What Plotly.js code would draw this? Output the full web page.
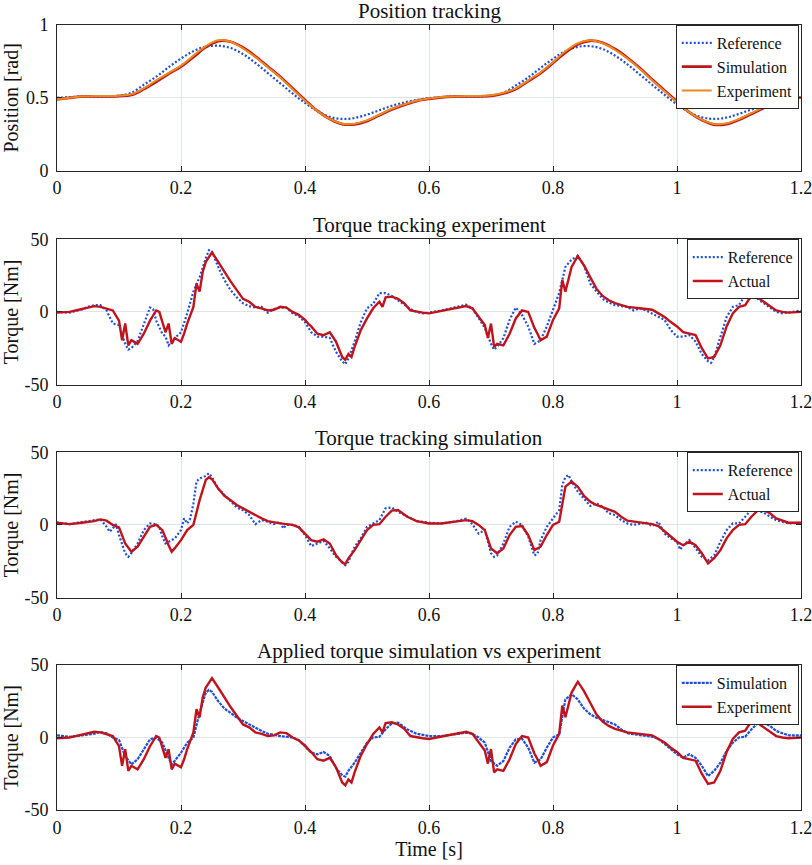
<!DOCTYPE html>
<html>
<head>
<meta charset="utf-8">
<script src="https://cdn.plot.ly/plotly-3.0.1.min.js"></script>
<style>html,body{margin:0;padding:0;background:#fff}#chart{width:812px;height:865px}</style>
</head>
<body>
<div id="chart"></div>
<script>
// ---------- Panel 1: Position tracking ----------
const posTime = [0,0.02,0.04,0.06,0.08,0.10,0.12,0.14,0.16,0.18,0.20,0.22,0.24,0.26,0.28,0.30,0.32,0.34,0.36,0.38,0.40,0.42,0.44,0.46,0.48,0.50,0.52,0.54,0.56,0.58,0.60,0.62,0.64,0.66,0.68,0.70,0.72,0.74,0.76,0.78,0.80,0.82,0.84,0.86,0.88,0.90,0.92,0.94,0.96,0.98,1.00,1.02,1.04,1.06,1.08,1.10,1.12,1.14,1.16,1.18,1.20];
const posReference = [0.50,0.505,0.51,0.51,0.51,0.515,0.535,0.59,0.645,0.71,0.77,0.82,0.852,0.858,0.842,0.80,0.74,0.67,0.60,0.53,0.465,0.41,0.37,0.355,0.362,0.385,0.415,0.445,0.468,0.485,0.498,0.505,0.51,0.51,0.51,0.515,0.535,0.585,0.64,0.705,0.768,0.82,0.85,0.855,0.835,0.79,0.73,0.66,0.59,0.52,0.455,0.40,0.367,0.355,0.365,0.39,0.42,0.448,0.47,0.488,0.505];
const posSimulation = [0.49,0.50,0.508,0.51,0.51,0.512,0.52,0.56,0.61,0.665,0.715,0.78,0.848,0.89,0.885,0.845,0.785,0.715,0.645,0.565,0.485,0.41,0.355,0.32,0.318,0.34,0.38,0.42,0.452,0.478,0.493,0.503,0.508,0.51,0.51,0.514,0.53,0.56,0.615,0.67,0.74,0.81,0.868,0.892,0.878,0.835,0.775,0.705,0.625,0.55,0.475,0.40,0.348,0.316,0.32,0.35,0.39,0.43,0.462,0.487,0.503];
const posExperiment = [0.49,0.50,0.51,0.512,0.513,0.515,0.525,0.565,0.62,0.67,0.72,0.79,0.855,0.895,0.885,0.84,0.78,0.71,0.64,0.56,0.48,0.41,0.355,0.322,0.322,0.345,0.385,0.425,0.455,0.48,0.495,0.505,0.51,0.513,0.513,0.518,0.535,0.565,0.62,0.675,0.745,0.82,0.875,0.895,0.875,0.83,0.77,0.70,0.62,0.545,0.47,0.40,0.35,0.32,0.325,0.355,0.395,0.435,0.465,0.49,0.505];

// ---------- Panel 2: Torque tracking experiment ----------
const expRefTime = [0,0.02,0.04,0.05,0.06,0.07,0.08,0.09,0.10,0.11,0.115,0.12,0.13,0.14,0.15,0.155,0.16,0.17,0.175,0.18,0.19,0.20,0.21,0.22,0.23,0.24,0.245,0.25,0.26,0.27,0.28,0.29,0.30,0.31,0.32,0.33,0.34,0.35,0.36,0.37,0.38,0.39,0.40,0.41,0.42,0.43,0.44,0.45,0.46,0.465,0.47,0.48,0.49,0.50,0.51,0.52,0.53,0.54,0.55,0.56,0.57,0.58,0.59,0.60,0.61,0.62,0.63,0.64,0.65,0.66,0.67,0.68,0.69,0.70,0.705,0.71,0.72,0.73,0.74,0.75,0.76,0.77,0.78,0.79,0.80,0.81,0.82,0.83,0.84,0.85,0.86,0.87,0.88,0.89,0.90,0.91,0.92,0.93,0.94,0.95,0.96,0.97,0.98,0.99,1.00,1.01,1.02,1.03,1.04,1.05,1.055,1.06,1.07,1.08,1.09,1.10,1.11,1.12,1.13,1.14,1.15,1.16,1.17,1.18,1.19,1.20];
const expReference = [0,-0.5,1.7,3.5,4.7,4.7,1,-8,-9,-22,-26,-25,-20,-8,3,2,-6,-15,-17,-23,-18,-14,-1,14,24,37,42.5,41.5,31,22,15,10,6,4,3,3.5,-0.5,2,3,3,-1,-3,-7,-14,-17,-17,-18,-27.5,-34,-36,-32,-20.5,-7,2.5,5.5,13,13,11,8,5,2,0,-1,-0.5,0,1,2,3,3.5,5,2.5,-4.5,-11,-22,-26,-24,-18,-5.5,3,-2,-10,-22,-19.5,-10,1,13,31,36,38.5,32,19.5,14,9,6.5,4.7,4,3.5,1,2.5,1,-1,-3,-5.5,-12.5,-17,-17,-16,-20.5,-29,-34,-35,-31,-18,-3.5,3.5,4.7,11.5,11.5,9,6,2.5,0,-1,-0.5,0,1];
const expActTime = [0,0.01,0.02,0.03,0.04,0.05,0.06,0.07,0.08,0.09,0.10,0.105,0.11,0.115,0.12,0.13,0.14,0.15,0.16,0.165,0.17,0.175,0.18,0.185,0.19,0.20,0.205,0.21,0.22,0.225,0.23,0.235,0.24,0.25,0.26,0.27,0.28,0.29,0.30,0.31,0.32,0.33,0.34,0.35,0.36,0.37,0.38,0.39,0.40,0.405,0.41,0.42,0.43,0.44,0.45,0.46,0.465,0.47,0.475,0.48,0.49,0.50,0.51,0.52,0.525,0.53,0.54,0.55,0.56,0.57,0.58,0.59,0.60,0.62,0.64,0.66,0.67,0.68,0.69,0.695,0.70,0.705,0.71,0.72,0.73,0.74,0.75,0.76,0.77,0.775,0.78,0.79,0.80,0.81,0.815,0.82,0.83,0.84,0.85,0.86,0.87,0.88,0.89,0.90,0.92,0.94,0.96,0.97,0.98,0.99,1.00,1.01,1.02,1.03,1.04,1.05,1.06,1.07,1.08,1.09,1.10,1.11,1.115,1.12,1.13,1.14,1.15,1.16,1.17,1.18,1.20];
const expActual = [-0.5,-0.5,0,1,2,3,4,3.5,2.5,1,-6,-19.5,-8,-23,-19.5,-22,-15,-6,1,0,-7,-14,-8,-22,-18,-20.5,-15,-8,3.5,19.5,14,27.5,34.5,41,34.5,27.5,21,15,9,7,3.5,2.5,1,1.5,3.5,3,0,-2,-5.5,-8,-10,-15,-16,-14,-20.5,-31,-33,-29,-31,-24,-12.5,-4.5,2.5,7,3.5,10,10.5,9,6,1,0,-0.5,-1,0.5,2.5,4,2.5,-3.5,-9,-18,-8,-24,-22,-23,-15,-4.5,1,0,-11,-15,-19.5,-17,-5.5,2.5,22,14,31,38.5,32,24,16,11,8,6,3.5,2.5,1.5,-1,-3.5,-7,-10,-14,-15,-16,-25,-32,-31,-23,-10,-1,3.5,4.7,8,10.5,10,7,3.5,1,0,-0.5,0];

// ---------- Panel 3: Torque tracking simulation ----------
const simRefTime = [0,0.02,0.04,0.06,0.07,0.08,0.085,0.09,0.095,0.10,0.11,0.115,0.12,0.13,0.14,0.15,0.16,0.165,0.17,0.175,0.18,0.19,0.20,0.205,0.21,0.215,0.22,0.225,0.23,0.24,0.245,0.25,0.26,0.27,0.28,0.29,0.30,0.31,0.32,0.33,0.34,0.35,0.36,0.365,0.37,0.38,0.39,0.40,0.41,0.42,0.43,0.44,0.45,0.46,0.465,0.47,0.48,0.49,0.50,0.51,0.52,0.53,0.54,0.55,0.56,0.58,0.60,0.62,0.64,0.66,0.67,0.68,0.69,0.70,0.705,0.71,0.72,0.73,0.74,0.75,0.76,0.77,0.775,0.78,0.79,0.80,0.81,0.815,0.82,0.825,0.83,0.84,0.85,0.86,0.87,0.88,0.89,0.90,0.91,0.92,0.93,0.94,0.95,0.96,0.97,0.98,0.99,1.00,1.005,1.01,1.02,1.03,1.04,1.05,1.06,1.07,1.08,1.09,1.10,1.11,1.12,1.13,1.14,1.15,1.16,1.17,1.18,1.20];
const simReference = [1.5,0.5,2,3.3,3.8,-1.3,-4.7,-2.4,0.5,-7,-19.5,-22,-19.5,-12.8,-3.6,1,0.5,-1.3,-8,-12.8,-11.6,-9.3,-3.6,4.5,1,4.5,14.8,29.8,32,33.7,35.5,32.8,25,20.6,16,12,10,6.8,0.5,3.3,2.2,0.5,2.2,-2.4,0,0,-1.3,-7,-14.6,-12.8,-11,-16.2,-22,-25.4,-27.7,-25.4,-15,-9.3,-1.3,1,3.3,11.4,12,9,6.8,2.6,1.5,1,2.2,4.3,0.5,-6,-3.6,-19.5,-22,-21,-12.8,-1.3,2.2,0,-8,-21,-20,-10.5,-1.3,4.5,10.2,27.5,33,34.4,29.8,23,18.3,13,14.8,12.5,8,6.8,3.3,1,0,0.5,1.5,-0.8,2.2,-6,-9.3,-11.6,-17,-14,-10.5,-16,-22,-24.3,-21,-11.6,-3.6,1,1,5.6,10.7,9.8,8.4,5.6,3.3,2.2,1,1.5];
const simActTime = [0,0.02,0.04,0.06,0.07,0.08,0.09,0.10,0.11,0.12,0.13,0.14,0.15,0.16,0.17,0.18,0.185,0.19,0.20,0.21,0.22,0.23,0.24,0.245,0.25,0.26,0.27,0.28,0.29,0.30,0.31,0.32,0.33,0.34,0.35,0.36,0.37,0.38,0.39,0.40,0.41,0.42,0.43,0.44,0.45,0.46,0.465,0.47,0.48,0.49,0.50,0.51,0.52,0.53,0.54,0.55,0.565,0.58,0.60,0.62,0.64,0.66,0.67,0.68,0.69,0.70,0.71,0.72,0.73,0.74,0.75,0.76,0.77,0.78,0.79,0.80,0.81,0.82,0.83,0.84,0.85,0.86,0.87,0.88,0.89,0.90,0.91,0.92,0.94,0.96,0.97,0.98,0.99,1.00,1.01,1.02,1.03,1.04,1.05,1.06,1.07,1.08,1.09,1.10,1.11,1.12,1.13,1.14,1.15,1.16,1.17,1.18,1.20];
const simActual = [1.5,0.5,1.5,2.6,3.8,2.9,0,-1.7,-12.8,-18.5,-15,-8,-1.3,0,-3.6,-14,-18.5,-16,-10.5,-3.6,0,17,31,32.8,31.5,25,20,17,13.7,11.4,9,6.8,4.5,2.6,1.7,1,0.5,0,-1.7,-6,-10.5,-11.6,-10,-12.8,-21,-26,-27,-23,-17.4,-10.5,-3.6,0,0.5,5.6,9.8,10.2,5.6,2.6,1,1,2.2,3.3,2.6,0,-3.6,-16.2,-19.5,-16.2,-7,-1.3,-0.8,-7,-17.4,-15,-7,0,2.2,26.3,29.8,26.3,20,16,13.7,12,10.7,9,5.6,2.9,1.7,0.5,-0.8,-4.7,-8,-11.6,-14,-11.6,-14,-19.5,-26.6,-23,-17.4,-9.3,-3.6,0,0.5,5.6,9.8,10.2,8,4.5,2.9,1.5,1.5];

// ---------- Tick labels & texts ----------
const timeTicks = [0,0.2,0.4,0.6,0.8,1,1.2];
const timeTickText = ['0','0.2','0.4','0.6','0.8','1','1.2'];
const posTicks = [0,0.5,1];
const posTickText = ['0','0.5','1'];
const torqueTicks = [-50,0,50];
const torqueTickText = ['-50','0','50'];
const panelTitles = ['Position tracking','Torque tracking experiment','Torque tracking simulation','Applied torque simulation vs experiment'];

const BLUE = '#1f4fd6', RED = '#c0141c', ORANGE = '#ea8a1e';
const FONT = '"Liberation Serif", "Times New Roman", serif';
const domains = [[0.8144,1],[0.5420,0.7270],[0.2707,0.4557],[0,0.1847]];

const dotLine = {color: BLUE, width: 2.2, dash: '2px,2px'};
const denseDotLine = {color: BLUE, width: 2.2, dash: '3px,1px'};
const redLine = {color: RED, width: 2.4};

const traces = [
  {x: posTime, y: posReference, name: 'Reference', xaxis:'x', yaxis:'y', legend:'legend', mode:'lines', line: Object.assign({shape:'spline'}, dotLine)},
  {x: posTime, y: posSimulation, name: 'Simulation', xaxis:'x', yaxis:'y', legend:'legend', mode:'lines', line: {color: RED, width: 2.8, shape:'spline'}},
  {x: posTime, y: posExperiment, name: 'Experiment', xaxis:'x', yaxis:'y', legend:'legend', mode:'lines', line: {color: ORANGE, width: 2, shape:'spline'}},
  {x: expRefTime, y: expReference, name: 'Reference', xaxis:'x2', yaxis:'y2', legend:'legend2', mode:'lines', line: dotLine},
  {x: expActTime, y: expActual, name: 'Actual', xaxis:'x2', yaxis:'y2', legend:'legend2', mode:'lines', line: redLine},
  {x: simRefTime, y: simReference, name: 'Reference', xaxis:'x3', yaxis:'y3', legend:'legend3', mode:'lines', line: dotLine},
  {x: simActTime, y: simActual, name: 'Actual', xaxis:'x3', yaxis:'y3', legend:'legend3', mode:'lines', line: redLine},
  {x: simActTime, y: simActual, name: 'Simulation', xaxis:'x4', yaxis:'y4', legend:'legend4', mode:'lines', line: denseDotLine},
  {x: expActTime, y: expActual, name: 'Experiment', xaxis:'x4', yaxis:'y4', legend:'legend4', mode:'lines', line: redLine}
];

function xAxis(i) {
  const ax = {
    domain: [0,1], range: [0,1.2], anchor: 'y' + (i === 0 ? '' : i+1),
    tickmode: 'array', tickvals: timeTicks, ticktext: timeTickText,
    showline: true, linecolor: '#262626', linewidth: 1, mirror: 'ticks',
    ticks: 'inside', ticklen: 5, tickcolor: '#262626',
    showgrid: true, gridcolor: '#dfe4e8', gridwidth: 1, zeroline: false,
    tickfont: {family: FONT, size: 18, color: '#111'}, ticklabelstandoff: 1,
    ticklabeloverflow: 'allow',
    fixedrange: true
  };
  if (i === 3) ax.title = {text: 'Time [s]', font: {family: FONT, size: 20, color: '#111'}, standoff: 4};
  return ax;
}
function yAxis(i) {
  const isPos = i === 0;
  return {
    domain: domains[i], range: isPos ? [0,1] : [-50,50], anchor: 'x' + (i === 0 ? '' : i+1),
    tickmode: 'array', tickvals: isPos ? posTicks : torqueTicks, ticktext: isPos ? posTickText : torqueTickText,
    showline: true, linecolor: '#262626', linewidth: 1, mirror: 'ticks',
    ticks: 'inside', ticklen: 5, tickcolor: '#262626',
    showgrid: true, gridcolor: '#dfe4e8', gridwidth: 1, zeroline: false,
    tickfont: {family: FONT, size: 18, color: '#111'}, ticklabelstandoff: 4,
    ticklabeloverflow: 'allow',
    title: {text: isPos ? 'Position [rad]' : 'Torque [Nm]', font: {family: FONT, size: 20, color: '#111'}, standoff: isPos ? 12 : 4},
    fixedrange: true
  };
}
function legendBox(i) {
  return {
    x: 0.997, xanchor: 'right', y: domains[i][1], yanchor: 'top', xref: 'paper', yref: 'paper',
    bgcolor: '#ffffff', bordercolor: '#262626', borderwidth: 1,
    font: {family: FONT, size: 16, color: '#111'}, tracegroupgap: 0, itemwidth: 30,
    traceorder: 'normal'
  };
}

const layout = {
  width: 812, height: 865,
  margin: {l: 57, r: 11, t: 25, b: 55},
  paper_bgcolor: '#ffffff', plot_bgcolor: '#ffffff',
  font: {family: FONT, color: '#111'},
  showlegend: true,
  annotations: panelTitles.map((t, i) => ({
    text: t, xref: 'paper', yref: 'paper', x: 0.5, y: domains[i][1],
    xanchor: 'center', yanchor: 'bottom', yshift: 0, showarrow: false,
    font: {family: FONT, size: 21, color: '#111'}
  }))
};
for (let i = 0; i < 4; i++) {
  const s = i === 0 ? '' : String(i+1);
  layout['xaxis' + s] = xAxis(i);
  layout['yaxis' + s] = yAxis(i);
  layout['legend' + s] = legendBox(i);
}

Plotly.newPlot('chart', traces, layout, {displayModeBar: false, staticPlot: true});
</script>
</body>
</html>
